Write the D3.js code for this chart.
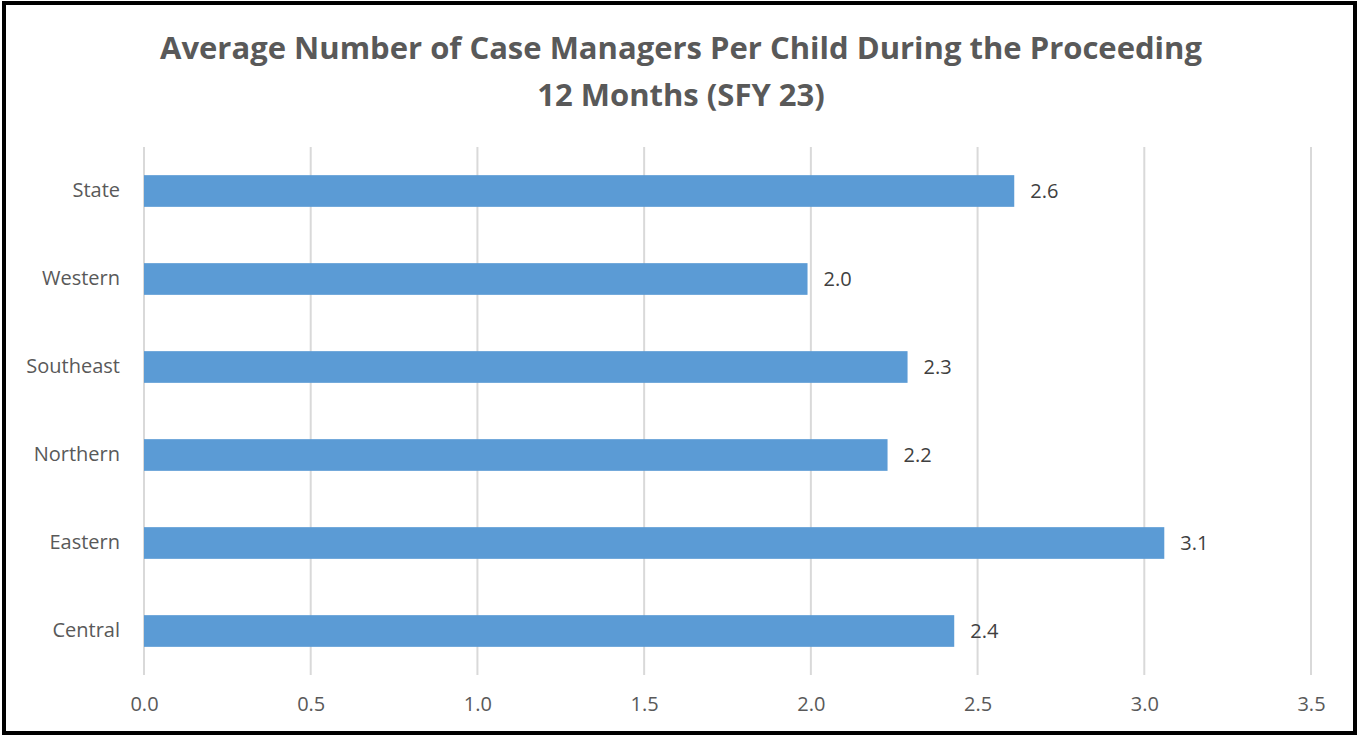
<!DOCTYPE html>
<html>
<head>
<meta charset="utf-8">
<script src="https://cdn.jsdelivr.net/npm/d3@7"></script>
<style>
  body { margin: 0; background: #fff; }
  text { font-family: "Open Sans", "Noto Sans", sans-serif; }
</style>
</head>
<body>
<svg id="chart"></svg>
<script>
// data
let categories = ['State', 'Western', 'Southeast', 'Northern', 'Eastern', 'Central'];
let values = [2.61, 1.99, 2.29, 2.23, 3.06, 2.43];
let xTicks = [0, 0.5, 1, 1.5, 2, 2.5, 3, 3.5];
let titleLines = ['Average Number of Case Managers Per Child During the Proceeding', '12 Months (SFY 23)'];

let svgWidth = 1359;
let svgHeight = 736;
let margin = {left: 144, right: 46, top: 147, bottom: 61};

let svg = d3.select('#chart')
    .attr('width', svgWidth)
    .attr('height', svgHeight);

// outer frame
svg.append('rect')
    .attr('x', 4).attr('y', 3)
    .attr('width', svgWidth - 8).attr('height', svgHeight - 6)
    .attr('fill', 'none')
    .attr('stroke', '#000')
    .attr('stroke-width', 4);

let xScale = d3.scaleLinear()
    .domain([0, 3.5])
    .range([margin.left, svgWidth - margin.right - 2]);

let yScale = d3.scaleBand()
    .domain(categories)
    .range([margin.top, svgHeight - margin.bottom])
    .paddingInner(0.64)
    .paddingOuter(0.32);

// gridlines
svg.append('g')
    .selectAll('line')
    .data(xTicks)
    .enter()
    .append('line')
    .attr('x1', d => xScale(d))
    .attr('x2', d => xScale(d))
    .attr('y1', margin.top)
    .attr('y2', svgHeight - margin.bottom)
    .attr('stroke', '#d9d9d9')
    .attr('stroke-width', 2);

// bars
svg.append('g')
    .selectAll('rect')
    .data(values)
    .enter()
    .append('rect')
    .attr('x', xScale(0))
    .attr('y', (d, i) => yScale(categories[i]))
    .attr('width', d => xScale(d) - xScale(0))
    .attr('height', yScale.bandwidth())
    .attr('fill', '#5b9bd5');

// data labels
svg.append('g')
    .selectAll('text')
    .data(values)
    .enter()
    .append('text')
    .attr('x', d => xScale(d) + 16)
    .attr('y', (d, i) => yScale(categories[i]) + yScale.bandwidth() / 2)
    .attr('dy', '0.35em')
    .attr('font-size', 20)
    .attr('fill', '#404040')
    .text(d => d.toFixed(1));

// x axis (no line, just labels)
let xAxis = d3.axisBottom(xScale)
    .tickValues(xTicks)
    .tickFormat(d3.format('.1f'))
    .tickSize(0)
    .tickPadding(22);

let gx = svg.append('g')
    .attr('transform', 'translate(0,' + (svgHeight - margin.bottom) + ')')
    .call(xAxis);
gx.select('.domain').remove();
gx.selectAll('text')
    .attr('font-size', 20)
    .attr('font-family', '"Open Sans", "Noto Sans", sans-serif')
    .attr('fill', '#595959');

// y axis
let yAxis = d3.axisLeft(yScale)
    .tickSize(0)
    .tickPadding(24);

let gy = svg.append('g')
    .attr('transform', 'translate(' + margin.left + ',0)')
    .call(yAxis);
gy.select('.domain').remove();
gy.selectAll('text')
    .attr('font-size', 20)
    .attr('font-family', '"Open Sans", "Noto Sans", sans-serif')
    .attr('fill', '#595959');

// title
let title = svg.append('g')
    .selectAll('text')
    .data(titleLines)
    .enter()
    .append('text')
    .attr('x', 681)
    .attr('y', (d, i) => 59 + i * 47)
    .attr('text-anchor', 'middle')
    .attr('font-weight', 'bold')
    .attr('font-size', 30)
    .attr('fill', '#595959')
    .text(d => d);

// shrink the title to the width seen in the picture
let w = title.node().getComputedTextLength();
let fs = 30 * 1042 / w;
title.attr('font-size', fs);
</script>
</body>
</html>
